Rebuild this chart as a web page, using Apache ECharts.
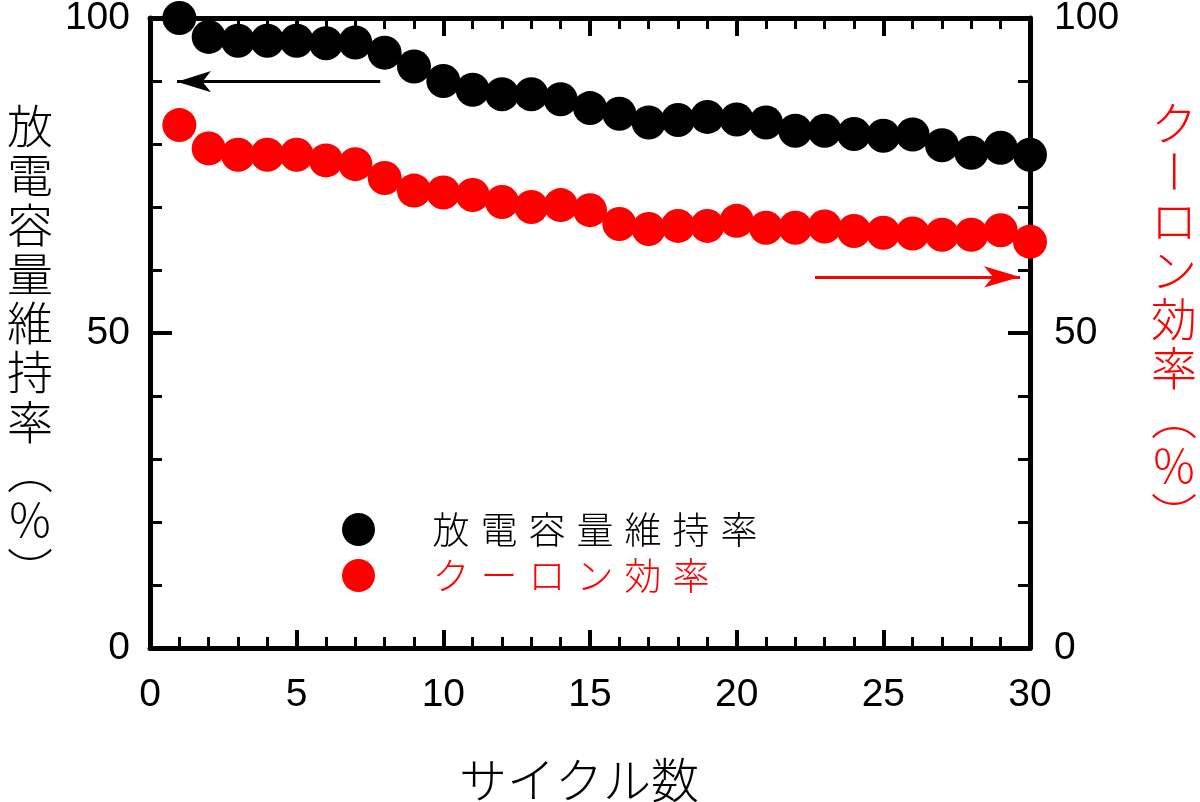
<!DOCTYPE html>
<html>
<head>
<meta charset="utf-8">
<script src="https://cdn.jsdelivr.net/npm/echarts@6/dist/echarts.min.js"></script>
<style>
html,body{margin:0;padding:0;background:#fff;}
#chart{width:1200px;height:802px;}
</style>
</head>
<body>
<div id="chart"></div>
<script>
const cycles = [1,2,3,4,5,6,7,8,9,10,11,12,13,14,15,16,17,18,19,20,21,22,23,24,25,26,27,28,29,30];
const retention = [100,97.0,96.4,96.4,96.4,96.0,96.1,94.5,92.3,90.0,88.6,87.9,87.9,87.1,85.7,84.8,83.4,83.8,84.3,83.9,83.4,82.1,82.1,81.6,81.3,81.5,79.8,78.6,79.4,78.3];
const coulombic = [83.0,79.3,78.3,78.3,78.3,77.4,76.8,74.6,72.6,72.3,71.9,70.8,70.0,70.3,69.5,67.3,66.5,67.0,67.0,67.8,66.7,66.7,66.9,66.2,65.9,65.8,65.6,65.6,66.3,64.5];
const xTicks = [0,5,10,15,20,25,30];
const yTicks = [0,50,100];
const seriesNames = ['放電容量維持率','クーロン効率'];
const leftAxisTitle = '放電容量維持率（％）';
const rightAxisTitle = 'クーロン効率（％）';
const xAxisTitle = 'サイクル数';
const leftArrow = [[7.85, 89.9], [0.92, 89.9]];
const rightArrow = [[22.67, 58.9], [29.66, 58.9]];

const CJK = '"Noto Sans CJK JP", "Noto Sans CJK SC", sans-serif';
const NUM = '"Liberation Sans", Arial, sans-serif';
const BLACK = '#000000';
const RED = '#ff0000';

const chart = echarts.init(document.getElementById('chart'), null, {renderer:'canvas'});

function pairs(xs, ys){ return xs.map((x,i)=>[x, ys[i]]); }

function verticalText(str, cx, cy0, step, color){
  const map = {'（':'︵','）':'︶'};
  return Array.from(str).map((ch,i)=>({
    type:'text', x:cx, y:cy0 + i*step,
    rotation: ch==='ー' ? -Math.PI/2 : 0,
    silent:true,
    style:{text: map[ch]||ch, fill:color, fontSize:46, fontFamily:CJK, fontWeight:300,
           align:'center', verticalAlign:'middle'}
  }));
}

function xAxisCfg(pos, showLabel){
  return {
    type:'value', position:pos, min:xTicks[0], max:xTicks[xTicks.length-1], interval:5,
    axisLine:{show:true, onZero:false, lineStyle:{color:BLACK, width:5}},
    axisTick:{show:true, inside:true, length:18, lineStyle:{color:BLACK, width:4}},
    minorTick:{show:true, splitNumber:5, length:11, lineStyle:{color:BLACK, width:3}},
    axisLabel:{show:showLabel, margin:28, fontSize:39, fontFamily:NUM, color:BLACK},
    splitLine:{show:false}, minorSplitLine:{show:false},
    name: showLabel ? xAxisTitle : '',
    nameLocation:'middle', nameGap:108,
    nameTextStyle:{fontSize:48, fontFamily:CJK, fontWeight:300, color:BLACK, padding:[0,22,0,0]}
  };
}
function yAxisCfg(pos, margin){
  return {
    type:'value', position:pos, min:yTicks[0], max:yTicks[yTicks.length-1], interval:50,
    axisLine:{show:true, onZero:false, lineStyle:{color:BLACK, width:5}},
    axisTick:{show:true, inside:true, length:22, lineStyle:{color:BLACK, width:4}},
    minorTick:{show:true, splitNumber:5, length:12, lineStyle:{color:BLACK, width:3}},
    axisLabel:{show:true, margin:margin, fontSize:39, fontFamily:NUM, color:BLACK},
    splitLine:{show:false}, minorSplitLine:{show:false}
  };
}

function arrowLine(coords, color, size){
  return {
    silent:true, animation:false,
    symbol:['none','arrow'], symbolSize:size,
    lineStyle:{color:color, width:3, type:'solid'},
    label:{show:false},
    emphasis:{disabled:true},
    data:[[{coord:coords[0]},{coord:coords[1]}]]
  };
}

const option = {
  animation:false,
  backgroundColor:'#ffffff',
  grid:{left:150, right:170, top:18, bottom:154, containLabel:false, outerBoundsMode:'none'},
  xAxis:[xAxisCfg('bottom', true), xAxisCfg('top', false)],
  yAxis:[yAxisCfg('left', 20), yAxisCfg('right', 24)],
  legend:{
    orient:'vertical', left:337, top:506, itemWidth:127, itemHeight:33, itemGap:9,
    icon:'circle', selectedMode:false,
    data:[{name:seriesNames[0], textStyle:{color:BLACK}}, {name:seriesNames[1], textStyle:{color:RED}}],
    formatter: n => Array.from(n).map(c=>'{c|'+c+'}').join(''),
    textStyle:{fontSize:37, fontFamily:CJK, fontWeight:300, lineHeight:33,
      rich:{c:{fontSize:37, fontFamily:CJK, fontWeight:300, lineHeight:33, padding:[0,5.5,0,5.5]}}}
  },
  graphic: verticalText(leftAxisTitle, 30, 125.5, 49.3, BLACK)
    .concat(verticalText(rightAxisTitle, 1174, 122.5, 49, RED)),
  series:[
    {
      name:seriesNames[0], type:'scatter', xAxisIndex:0, yAxisIndex:0,
      symbol:'circle', symbolSize:34, clip:false,
      itemStyle:{color:BLACK, opacity:1},
      data:pairs(cycles, retention),
      markLine: arrowLine(leftArrow, BLACK, [16,34]),
      z:3
    },
    {
      name:seriesNames[1], type:'scatter', xAxisIndex:0, yAxisIndex:1,
      symbol:'circle', symbolSize:34, clip:false,
      itemStyle:{color:RED, opacity:1},
      data:pairs(cycles, coulombic),
      markLine: arrowLine(rightArrow, RED, [16,36]),
      z:2
    }
  ]
};
chart.setOption(option);
</script>
</body>
</html>
